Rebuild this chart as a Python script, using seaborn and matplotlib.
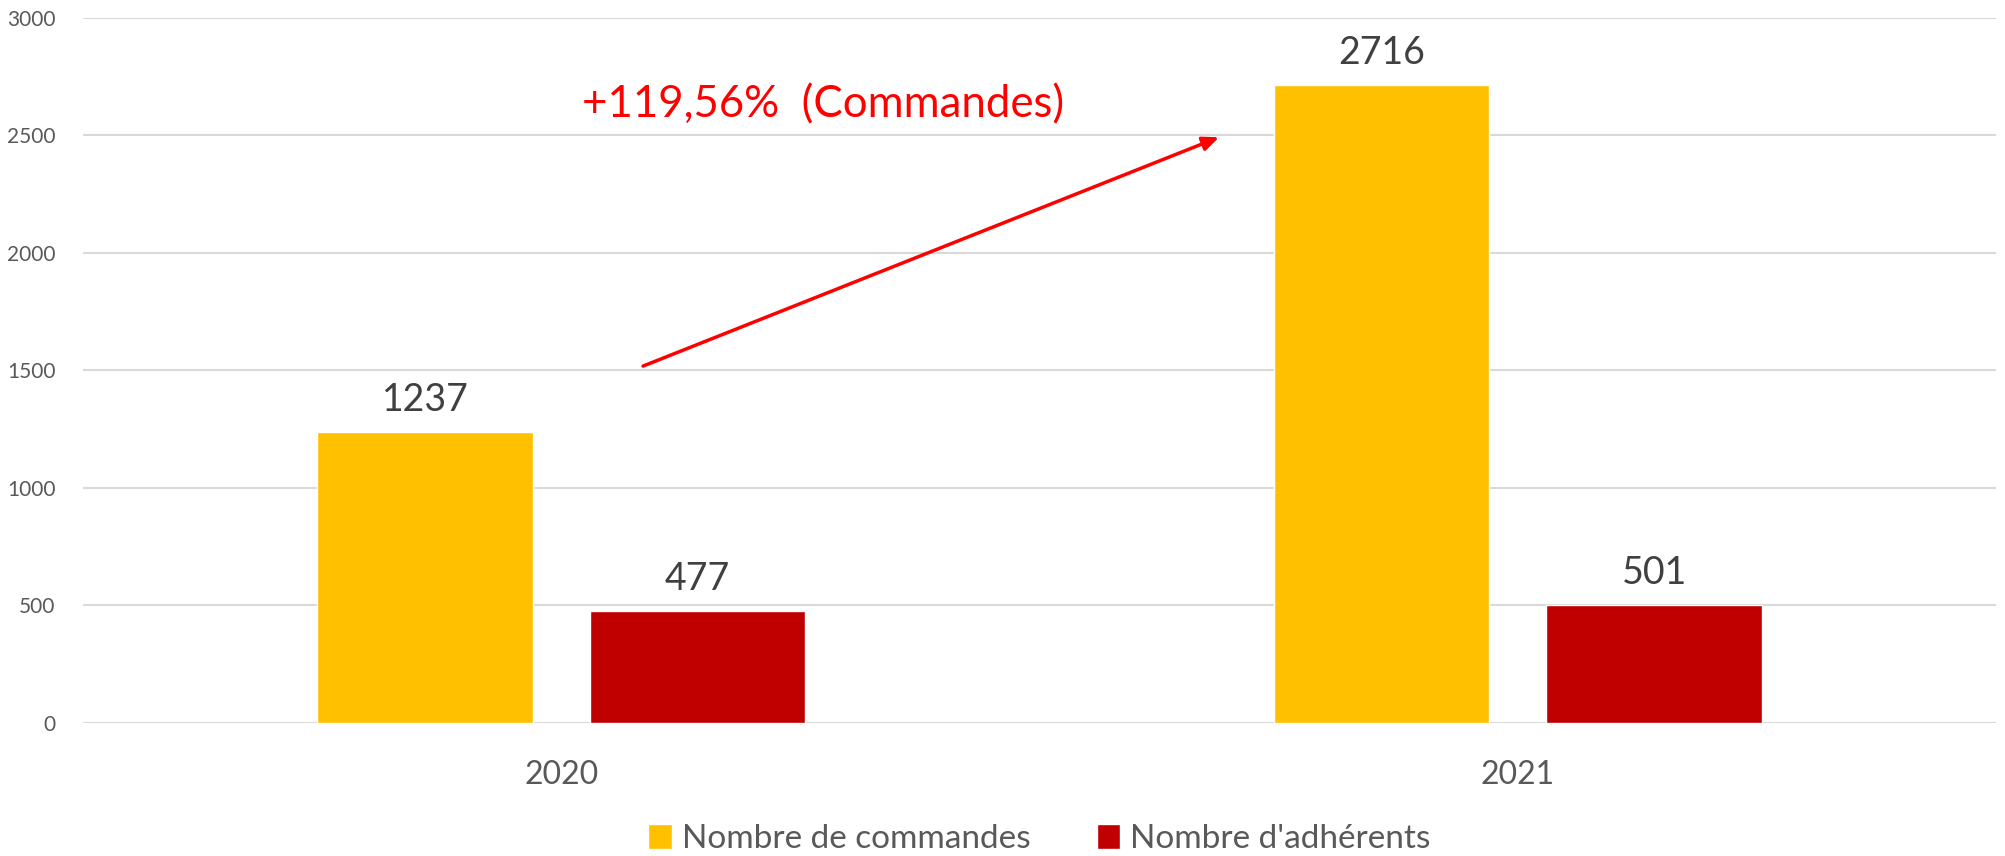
import matplotlib
matplotlib.use("Agg")
import matplotlib.pyplot as plt
import seaborn as sns
import pandas as pd

years = ["2020", "2021"]
series_names = ["Nombre de commandes", "Nombre d'adhérents"]
commandes = [1237, 2716]
adherents = [477, 501]
colors = ["#FFC000", "#C00000"]
yticks = [0, 500, 1000, 1500, 2000, 2500, 3000]
annotation_text = "+119,56%  (Commandes)"

df = pd.DataFrame({
    "Année": years * 2,
    "Série": [series_names[0]] * 2 + [series_names[1]] * 2,
    "Valeur": commandes + adherents,
})

sns.set_theme(style="white")
plt.rcParams["font.family"] = ["Lato", "DejaVu Sans"]

fig = plt.figure(figsize=(20.06, 8.56), dpi=100)
ax = fig.add_axes([0.0414, 0.1557, 0.9536, 0.8234])

sns.barplot(data=df, x="Année", y="Valeur", hue="Série", order=years,
            hue_order=series_names, palette=colors, width=0.57, gap=0.21,
            saturation=1, ax=ax, legend=True)

for cont in ax.containers:
    ax.bar_label(cont, fmt="%d", padding=10, fontsize=27, color="#404040")

ax.set_xlim(-0.5, 1.5)
ax.set_ylim(0, 3000)
ax.set_yticks(yticks)
ax.set_yticklabels([str(v) for v in yticks])
ax.set_xlabel("")
ax.set_ylabel("")
for s in ax.spines.values():
    s.set_visible(False)
ax.yaxis.grid(True, color="#D9D9D9", linewidth=1.5)
ax.xaxis.grid(False)
ax.set_axisbelow(True)
ax.tick_params(axis="y", length=0, pad=20, labelsize=15, labelcolor="#595959")
ax.tick_params(axis="x", length=0, pad=27, labelsize=23, labelcolor="#595959")

ax.annotate("", xy=(0.6877, 2492), xytext=(0.0855, 1518),
            arrowprops=dict(arrowstyle="-|>,head_length=0.8,head_width=0.35",
                            color="#FF0000", lw=2.5, shrinkA=0, shrinkB=0))
ax.text(0.0217, 2630, annotation_text, color="#FF0000", fontsize=31.5,
        ha="left", va="center")

leg = ax.legend(loc="lower center", bbox_to_anchor=(0.5, -0.205), ncol=2,
                frameon=False, fontsize=24, handlelength=0.7, handleheight=0.8,
                columnspacing=2.0, handletextpad=0.3, labelcolor="#595959",
                borderaxespad=0)

fig.savefig("out.png", dpi=100)
